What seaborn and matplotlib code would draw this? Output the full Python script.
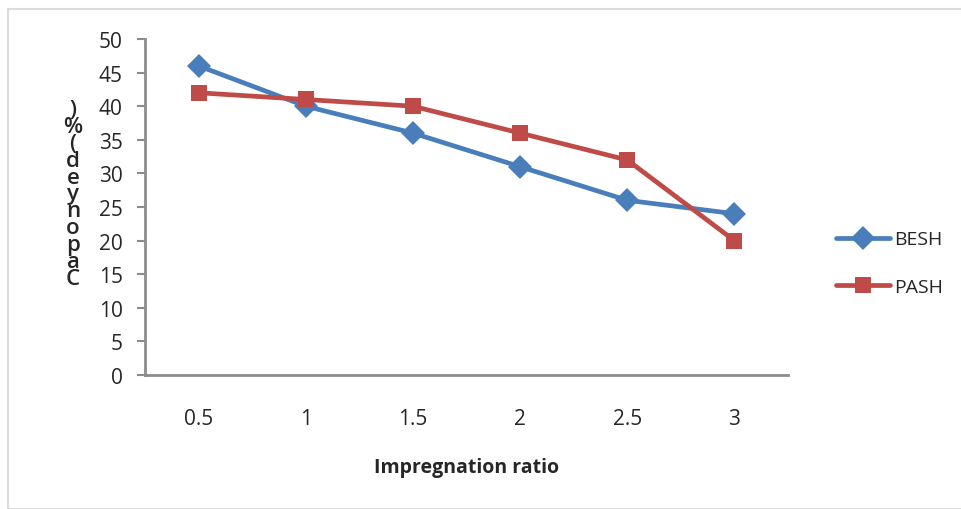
import matplotlib
matplotlib.use("Agg")
import matplotlib.pyplot as plt
from matplotlib.patches import Rectangle
import seaborn as sns
import pandas as pd

# Impregnation ratios and yields for the two series
ratios = ["0.5", "1", "1.5", "2", "2.5", "3"]
besh = [46, 40, 36, 31, 26, 24]
pash = [42, 41, 40, 36, 32, 20]
y_ticks = [0, 5, 10, 15, 20, 25, 30, 35, 40, 45, 50]
ylabel_chars = [")", "%", "(", "d", "e", "y", "n", "o", "p", "a", "C"]

df = pd.DataFrame({
    "ratio": ratios * 2,
    "value": besh + pash,
    "series": ["BESH"] * len(ratios) + ["PASH"] * len(ratios),
})

sns.set_style("white")
plt.rcParams["font.family"] = ["Open Sans", "DejaVu Sans"]

W, H = 961, 510
fig = plt.figure(figsize=(W / 100, H / 100), dpi=100)
ax = fig.add_axes([145 / W, 1 - 376 / H, (788 - 145) / W, (376 - 40) / H])

palette = {"BESH": "#4A7EBB", "PASH": "#BE4B48"}
sns.lineplot(data=df, x="ratio", y="value", hue="series", style="series",
             palette=palette, markers={"BESH": "D", "PASH": "s"},
             dashes=False, linewidth=3.4, markersize=12, markeredgewidth=0,
             sort=False, ax=ax)

ax.set_xlim(-0.5, len(ratios) - 0.5)
ax.set_ylim(0, 50)
ax.set_yticks(y_ticks)
ax.tick_params(axis="y", length=6, width=1.5, color="#8c8c8c", direction="out",
               labelsize=15, pad=10, left=True)
ax.tick_params(axis="x", length=0, labelsize=15, pad=24)
for s in ["top", "right"]:
    ax.spines[s].set_visible(False)
for s in ["left", "bottom"]:
    ax.spines[s].set_color("#8c8c8c")
    ax.spines[s].set_linewidth(2)
ax.set_xlabel("Impregnation ratio", fontsize=14, fontweight="bold", labelpad=20)
ax.set_ylabel("")

# Stacked y-axis caption
fig.text(73 / W, 1 - 195 / H, "\n".join(ylabel_chars), fontsize=16,
         ha="center", va="center", linespacing=0.74, fontweight="semibold")

leg = ax.legend(loc="center left", bbox_to_anchor=(818 / W, 1 - 264 / H),
                bbox_transform=fig.transFigure, frameon=False, fontsize=14,
                handlelength=2.8, labelspacing=1.5, handletextpad=0.2)
for h in leg.legend_handles:
    h.set_markersize(12)

# Light frame around the chart
fig.patches.append(Rectangle((8 / W, 0), 1, 1 - 10 / H, transform=fig.transFigure,
                             fill=False, edgecolor="#dcdcdc", linewidth=1.5))

fig.savefig("out.png", dpi=100)
